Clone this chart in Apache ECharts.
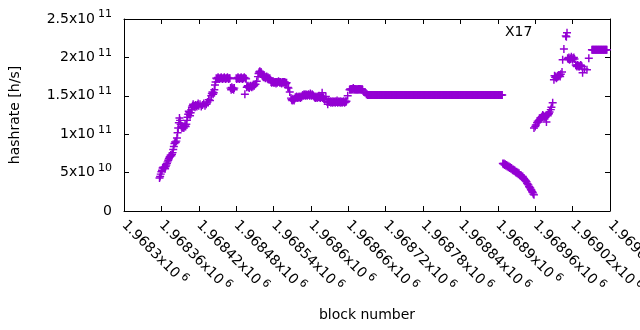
<!DOCTYPE html>
<html>
<head>
<meta charset="utf-8">
<script src="https://cdn.jsdelivr.net/npm/echarts@6/dist/echarts.min.js"></script>
<style>
  html, body { margin: 0; padding: 0; background: #fff; }
  #chart { width: 640px; height: 330px; }
</style>
</head>
<body>
<div id="chart"></div>
<script>
// hashrate per block: [block number, GH/s]
const rise = [
  [1968357, 43], [1968358, 45], [1968359, 48], [1968360, 51], [1968361, 53], [1968362, 56], [1968363, 57], [1968364, 56],
  [1968365, 57], [1968366, 55], [1968367, 58], [1968368, 60], [1968369, 62], [1968370, 64], [1968371, 66], [1968372, 68],
  [1968373, 70], [1968374, 71], [1968375, 73], [1968376, 72], [1968377, 74], [1968378, 76], [1968379, 80], [1968380, 84],
  [1968381, 88], [1968382, 90], [1968383, 89], [1968384, 91], [1968385, 95], [1968386, 102], [1968387, 108], [1968388, 115],
  [1968389, 121], [1968390, 118], [1968391, 113], [1968392, 110], [1968393, 108], [1968394, 109], [1968395, 110], [1968396, 108],
  [1968397, 110], [1968398, 112], [1968399, 110], [1968400, 113], [1968401, 118], [1968402, 122], [1968403, 126], [1968404, 130],
  [1968405, 128], [1968406, 124], [1968407, 128], [1968408, 132], [1968409, 135], [1968410, 137], [1968411, 139], [1968412, 136],
  [1968413, 137], [1968414, 135], [1968415, 138], [1968416, 137], [1968417, 136], [1968418, 138], [1968419, 140], [1968420, 137],
  [1968422, 139], [1968424, 136], [1968426, 138], [1968428, 140], [1968430, 137], [1968432, 139], [1968434, 142], [1968436, 145],
  [1968438, 144], [1968440, 150], [1968441, 153], [1968442, 155], [1968443, 152], [1968444, 154], [1968445, 158], [1968446, 164],
  [1968447, 168]
];

const plateau = [
  [1968448, 173], [1968449, 172], [1968450, 173], [1968451, 174], [1968452, 173], [1968453, 172], [1968454, 173], [1968455, 173],
  [1968456, 174], [1968457, 173], [1968458, 172], [1968459, 173], [1968460, 173], [1968461, 174], [1968462, 173], [1968463, 172],
  [1968464, 173], [1968465, 173], [1968466, 174], [1968467, 173], [1968468, 172], [1968469, 173], [1968470, 173],
  [1968471, 160], [1968472, 158], [1968473, 161], [1968474, 159], [1968475, 160], [1968476, 158], [1968477, 160],
  [1968480, 173], [1968481, 172], [1968482, 173], [1968483, 174], [1968484, 173], [1968485, 172], [1968486, 173], [1968487, 173],
  [1968488, 174], [1968489, 173], [1968490, 172], [1968491, 173], [1968492, 173], [1968493, 174], [1968494, 152], [1968495, 173],
  [1968496, 172],
  [1968497, 161], [1968498, 162], [1968499, 163], [1968500, 161], [1968501, 160], [1968502, 162], [1968503, 163], [1968504, 162],
  [1968505, 161], [1968506, 163], [1968507, 162], [1968508, 164], [1968509, 163], [1968511, 165], [1968513, 169], [1968515, 175]
];

const peak = [
  [1968516, 179], [1968517, 181], [1968518, 182], [1968519, 180], [1968520, 181], [1968521, 179],
  [1968522, 176], [1968523, 175], [1968524, 174], [1968525, 175], [1968526, 174], [1968527, 173], [1968528, 174], [1968529, 175],
  [1968530, 173], [1968531, 174], [1968532, 173], [1968533, 172], [1968534, 173], [1968535, 171],
  [1968536, 168], [1968537, 167], [1968538, 168], [1968539, 169], [1968540, 167], [1968541, 168], [1968542, 167], [1968543, 168],
  [1968544, 166], [1968545, 168], [1968546, 167], [1968547, 168], [1968548, 169], [1968549, 168], [1968550, 167], [1968551, 168],
  [1968552, 167], [1968553, 166], [1968554, 168], [1968555, 167], [1968556, 168], [1968557, 167], [1968558, 168], [1968559, 167],
  [1968560, 166], [1968561, 167], [1968563, 161], [1968564, 160], [1968566, 155]
];

const mid = [
  [1968568, 147], [1968569, 145], [1968570, 144], [1968571, 146], [1968572, 145], [1968573, 144], [1968574, 146], [1968575, 148],
  [1968576, 147], [1968577, 149], [1968578, 148], [1968579, 147], [1968580, 148], [1968581, 149], [1968582, 148], [1968583, 147],
  [1968584, 149], [1968585, 148], [1968586, 150], [1968587, 151], [1968588, 150], [1968589, 152], [1968590, 151], [1968591, 150],
  [1968592, 152], [1968593, 151], [1968594, 150], [1968595, 151], [1968596, 152], [1968597, 151], [1968598, 150], [1968599, 153],
  [1968600, 151], [1968601, 150], [1968602, 152], [1968603, 151], [1968604, 150], [1968605, 149], [1968606, 148], [1968607, 147],
  [1968608, 149], [1968609, 148], [1968610, 147], [1968611, 149], [1968612, 148], [1968613, 150], [1968614, 148], [1968615, 147],
  [1968616, 149], [1968617, 148], [1968618, 154], [1968619, 147], [1968620, 148], [1968621, 146], [1968622, 145], [1968624, 149],
  [1968626, 142], [1968627, 139], [1968628, 143], [1968629, 142], [1968630, 142], [1968631, 143], [1968632, 141], [1968633, 142],
  [1968634, 143], [1968635, 141], [1968636, 142], [1968637, 143], [1968638, 142], [1968639, 141], [1968640, 143], [1968641, 142],
  [1968642, 144], [1968643, 141], [1968644, 142], [1968645, 143], [1968646, 142], [1968647, 141], [1968648, 143], [1968649, 142],
  [1968650, 141], [1968651, 142], [1968652, 143], [1968653, 142], [1968654, 141], [1968655, 143], [1968656, 142], [1968657, 143],
  [1968659, 150],
  [1968662, 158], [1968663, 159], [1968664, 158], [1968665, 159], [1968666, 158], [1968667, 159], [1968668, 160], [1968669, 158],
  [1968670, 159], [1968671, 158], [1968672, 159], [1968673, 158], [1968674, 159], [1968675, 158], [1968676, 159], [1968677, 158],
  [1968678, 159], [1968679, 158], [1968680, 159], [1968681, 158], [1968682, 159], [1968683, 158], [1968685, 155], [1968687, 154],
  [1968689, 152]
];

const flat = [
  [1968690, 152], [1968691, 151], [1968692, 151], [1968693, 151], [1968694, 151], [1968695, 151], [1968696, 151], [1968697, 151],
  [1968698, 151], [1968699, 151], [1968700, 151], [1968701, 151], [1968702, 151], [1968703, 151], [1968704, 151], [1968705, 151],
  [1968706, 151], [1968707, 151], [1968708, 151], [1968709, 151], [1968710, 151], [1968711, 151], [1968712, 151], [1968713, 151],
  [1968714, 151], [1968715, 151], [1968716, 151], [1968717, 151], [1968718, 151], [1968719, 151], [1968720, 151], [1968721, 151],
  [1968722, 151], [1968723, 151], [1968724, 151], [1968725, 151], [1968726, 151], [1968727, 151], [1968728, 151], [1968729, 151],
  [1968730, 151], [1968731, 151], [1968732, 151], [1968733, 151], [1968734, 151], [1968735, 151], [1968736, 151], [1968737, 151],
  [1968738, 151], [1968739, 151], [1968740, 151], [1968741, 151], [1968742, 151], [1968743, 151], [1968744, 151], [1968745, 151],
  [1968746, 151], [1968747, 151], [1968748, 151], [1968749, 151], [1968750, 151], [1968751, 151], [1968752, 151], [1968753, 151],
  [1968754, 151], [1968755, 151], [1968756, 151], [1968757, 151], [1968758, 151], [1968759, 151], [1968760, 151], [1968761, 151],
  [1968762, 151], [1968763, 151], [1968764, 151], [1968765, 151], [1968766, 151], [1968767, 151], [1968768, 151], [1968769, 151],
  [1968770, 151], [1968771, 151], [1968772, 151], [1968773, 151], [1968774, 151], [1968775, 151], [1968776, 151], [1968777, 151],
  [1968778, 151], [1968779, 151], [1968780, 151], [1968781, 151], [1968782, 151], [1968783, 151], [1968784, 151], [1968785, 151],
  [1968786, 151], [1968787, 151], [1968788, 151], [1968789, 151], [1968790, 151], [1968791, 151], [1968792, 151], [1968793, 151],
  [1968794, 151], [1968795, 151], [1968796, 151], [1968797, 151], [1968798, 151], [1968799, 151], [1968800, 151], [1968801, 151],
  [1968802, 151], [1968803, 151], [1968804, 151], [1968805, 151], [1968806, 151], [1968807, 151], [1968808, 151], [1968809, 151],
  [1968810, 151], [1968811, 151], [1968812, 151], [1968813, 151], [1968814, 151], [1968815, 151], [1968816, 151], [1968817, 151],
  [1968818, 151], [1968819, 151], [1968820, 151], [1968821, 151], [1968822, 151], [1968823, 151], [1968824, 151], [1968825, 151],
  [1968826, 151], [1968827, 151], [1968828, 151], [1968829, 151], [1968830, 151], [1968831, 151], [1968832, 151], [1968833, 151],
  [1968834, 151], [1968835, 151], [1968836, 151], [1968837, 151], [1968838, 151], [1968839, 151], [1968840, 151], [1968841, 151],
  [1968842, 151], [1968843, 151], [1968844, 151], [1968845, 151], [1968846, 151], [1968847, 151], [1968848, 151], [1968849, 151],
  [1968850, 151], [1968851, 151], [1968852, 151], [1968853, 151], [1968854, 151], [1968855, 151], [1968856, 151], [1968857, 151],
  [1968858, 151], [1968859, 151], [1968860, 151], [1968861, 151], [1968862, 151], [1968863, 151], [1968864, 151], [1968865, 151],
  [1968866, 151], [1968867, 151], [1968868, 151], [1968869, 151], [1968870, 151], [1968871, 151], [1968872, 151], [1968873, 151],
  [1968874, 151], [1968875, 151], [1968876, 151], [1968877, 151], [1968878, 151], [1968879, 151], [1968880, 151], [1968881, 151],
  [1968882, 151], [1968883, 151], [1968884, 151], [1968885, 151], [1968886, 151], [1968887, 151], [1968888, 151], [1968889, 151],
  [1968890, 151], [1968891, 151], [1968892, 151], [1968893, 151], [1968894, 151], [1968895, 151], [1968896, 151], [1968897, 151],
  [1968898, 151], [1968899, 151], [1968900, 151], [1968901, 151], [1968902, 151], [1968903, 151], [1968904, 151], [1968905, 151],
  [1968906, 151], [1968907, 151]
];

const drop = [
  [1968908, 62], [1968909, 61], [1968910, 62], [1968911, 60], [1968912, 61], [1968913, 59], [1968914, 60], [1968915, 58],
  [1968916, 59], [1968917, 57], [1968918, 58], [1968919, 56], [1968920, 57], [1968921, 55], [1968922, 56], [1968923, 54],
  [1968924, 53], [1968925, 54], [1968926, 52], [1968927, 53], [1968928, 51], [1968929, 50], [1968930, 51], [1968931, 49],
  [1968932, 50], [1968933, 48], [1968934, 49], [1968935, 47], [1968936, 46], [1968937, 47], [1968938, 45], [1968939, 44],
  [1968940, 45], [1968941, 43], [1968942, 42], [1968943, 41], [1968944, 40], [1968945, 39], [1968946, 38], [1968947, 36],
  [1968948, 35], [1968949, 34], [1968950, 32], [1968951, 31], [1968952, 30], [1968953, 28], [1968954, 27], [1968955, 25],
  [1968956, 24], [1968957, 22], [1968958, 21]
];

const recovery = [
  [1968958, 108], [1968960, 110], [1968961, 112], [1968963, 115], [1968964, 117], [1968965, 116], [1968966, 118], [1968967, 119],
  [1968968, 121], [1968969, 120], [1968970, 122], [1968971, 123], [1968972, 125], [1968973, 124], [1968974, 122], [1968975, 123],
  [1968976, 122], [1968977, 124], [1968978, 116], [1968979, 125], [1968980, 124], [1968981, 126], [1968982, 127], [1968983, 129],
  [1968985, 132], [1968986, 135], [1968988, 141],
  [1968990, 171], [1968991, 176], [1968992, 174], [1968993, 175], [1968994, 173], [1968995, 174], [1968996, 176], [1968997, 175],
  [1968998, 177], [1968999, 176], [1969000, 175], [1969001, 178], [1969003, 181], [1969004, 197], [1969006, 211], [1969009, 228],
  [1969010, 227], [1969011, 232],
  [1969012, 199], [1969013, 198], [1969014, 200], [1969015, 197], [1969016, 199], [1969017, 198], [1969018, 201], [1969019, 199],
  [1969020, 197], [1969021, 199], [1969022, 200], [1969023, 198],
  [1969025, 190], [1969026, 189], [1969027, 188], [1969028, 190], [1969029, 189], [1969030, 188], [1969031, 188], [1969032, 189],
  [1969033, 190], [1969034, 189], [1969035, 188], [1969036, 180], [1969039, 185], [1969043, 184], [1969046, 199],
  [1969051, 210], [1969052, 210], [1969053, 210], [1969054, 210], [1969055, 210], [1969056, 210], [1969057, 210], [1969058, 210],
  [1969059, 210], [1969060, 210], [1969061, 210], [1969062, 210], [1969063, 210], [1969064, 210], [1969065, 210], [1969066, 210],
  [1969067, 210], [1969068, 210], [1969069, 210], [1969070, 210], [1969071, 210], [1969072, 210], [1969073, 210], [1969074, 210],
  [1969075, 210]
];

// tick labels, written as mantissa x10^exponent
const xTickMantissa = ['1.9683', '1.96836', '1.96842', '1.96848', '1.96854', '1.9686', '1.96866',
  '1.96872', '1.96878', '1.96884', '1.9689', '1.96896', '1.96902', '1.96908'];
const xTickExponent = '6';
const yTickMantissa = ['0', '5', '1', '1.5', '2', '2.5'];
const yTickExponent = ['', '10', '11', '11', '11', '11'];

const X_MIN = 1968300;
const X_MAX = 1969080;
const X_STEP = 60;
const Y_STEP = 50; // GH/s

const FONT = 'DejaVu Sans';
const PURPLE = '#9400d3';
const PLUS = 'path://M4.1,0H5.9V4.1H10V5.9H5.9V10H4.1V5.9H0V4.1H4.1Z';

const rich = {
  m: { fontFamily: FONT, fontSize: 14, color: '#000', lineHeight: 20 },
  e: { fontFamily: FONT, fontSize: 11, color: '#000', lineHeight: 12, verticalAlign: 'top', padding: [0, 0, 0, 3] }
};

function sci(mant, exp) {
  return exp ? `{m|${mant}x10}{e|${exp}}` : `{m|${mant}}`;
}

const chartDom = document.getElementById('chart');
const myChart = echarts.init(chartDom, null, { renderer: 'canvas' });

const blackLine = { show: true, onZero: false, lineStyle: { color: '#000', width: 1 } };
const innerTick = { show: true, inside: true, length: 5, lineStyle: { color: '#000', width: 1 } };

const options = {
  animation: false,
  grid: { left: 124, right: 30, top: 19, bottom: 119, containLabel: false, outerBoundsMode: 'none' },
  xAxis: [
    {
      type: 'value',
      position: 'bottom',
      min: X_MIN,
      max: X_MAX,
      interval: X_STEP,
      axisLine: blackLine,
      axisTick: innerTick,
      splitLine: { show: false },
      axisLabel: {
        rotate: -45,
        margin: 12,
        rich: rich,
        formatter: (v) => sci(xTickMantissa[Math.round((v - X_MIN) / X_STEP)], xTickExponent)
      }
    },
    {
      type: 'value',
      position: 'top',
      min: X_MIN,
      max: X_MAX,
      interval: X_STEP,
      axisLine: blackLine,
      axisTick: innerTick,
      splitLine: { show: false },
      axisLabel: { show: false }
    }
  ],
  yAxis: [
    {
      type: 'value',
      position: 'left',
      min: 0,
      max: 250,
      interval: Y_STEP,
      axisLine: blackLine,
      axisTick: innerTick,
      splitLine: { show: false },
      axisLabel: {
        margin: 12,
        rich: rich,
        formatter: (v) => {
          const i = Math.round(v / Y_STEP);
          return sci(yTickMantissa[i], yTickExponent[i]);
        }
      }
    },
    {
      type: 'value',
      position: 'right',
      min: 0,
      max: 250,
      interval: Y_STEP,
      axisLine: blackLine,
      axisTick: innerTick,
      splitLine: { show: false },
      axisLabel: { show: false }
    }
  ],
  series: [
    {
      type: 'scatter',
      xAxisIndex: 0,
      yAxisIndex: 0,
      symbol: PLUS,
      symbolSize: 8,
      silent: true,
      itemStyle: { color: PURPLE, opacity: 1 },
      data: [].concat(rise, plateau, peak, mid, flat, drop, recovery)
    }
  ],
  graphic: [
    {
      type: 'text',
      x: 15,
      y: 115,
      rotation: Math.PI / 2,
      style: { text: 'hashrate [h/s]', font: `14px "${FONT}"`, fill: '#000', align: 'center', verticalAlign: 'middle', textAlign: 'center', textVerticalAlign: 'middle' }
    },
    {
      type: 'text',
      x: 367,
      y: 315,
      style: { text: 'block number', font: `14px "${FONT}"`, fill: '#000', align: 'center', verticalAlign: 'middle', textAlign: 'center', textVerticalAlign: 'middle' }
    },
    {
      type: 'text',
      x: 505,
      y: 32,
      style: { text: 'X17', font: `14px "${FONT}"`, fill: '#000', align: 'left', verticalAlign: 'middle', textAlign: 'left', textVerticalAlign: 'middle' }
    }
  ]
};

myChart.setOption(options);
</script>
</body>
</html>
